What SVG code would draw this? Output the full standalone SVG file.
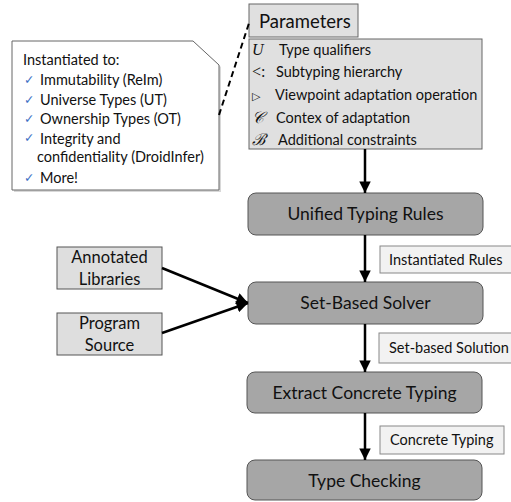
<svg xmlns="http://www.w3.org/2000/svg" width="511" height="502" viewBox="0 0 511 502">
<defs>
<style>
text{font-family:Lato,"Open Sans","Liberation Sans",sans-serif;fill:#111}
.proc{fill:#a6a6a6;stroke:#555;stroke-width:1}
.inp{fill:#dedede;stroke:#555;stroke-width:1}
.lbl{fill:#f2f2f2;stroke:#888;stroke-width:1}
.edge{stroke:#000;stroke-width:2.5;fill:none}
.big{font-size:17.5px}
.mid{font-size:16.5px}
.sm{font-size:14.5px}
.co{font-size:14.5px}
.par{font-size:14.5px}
.sym{font-family:"Liberation Serif","DejaVu Serif",serif;font-size:16px}
.chk{fill:#3b6fc4;font-size:12.5px;font-family:"DejaVu Sans",sans-serif}
</style>
<marker id="ah" viewBox="0 0 10 10" refX="10" refY="5" markerWidth="4.8" markerHeight="4.6" orient="auto" markerUnits="strokeWidth">
<path d="M0,0 L10,5 L0,10 z" fill="#000"/>
</marker>
</defs>

<g id="callout">
<path d="M14,43 L195,43 L221,67 L221,192 L14,192 Z" fill="#d8d8d8"/>
<path d="M12,41 L193,41 L219,65 L219,190 L12,190 Z" fill="#fff" stroke="#666" stroke-width="1"/>
<text class="co" x="23" y="65">Instantiated to:</text>
<text class="chk" x="24" y="84">✓</text><text class="co" x="40" y="85">Immutability (ReIm)</text>
<text class="chk" x="24" y="104">✓</text><text class="co" x="40" y="105">Universe Types (UT)</text>
<text class="chk" x="24" y="123">✓</text><text class="co" x="40" y="124">Ownership Types (OT)</text>
<text class="chk" x="24" y="142">✓</text><text class="co" x="40" y="144">Integrity and</text>
<text class="co" x="37" y="162">confidentiality (DroidInfer)</text>
<text class="chk" x="24" y="182">✓</text><text class="co" x="40" y="183">More!</text>
</g>

<g id="parameters">
<rect x="249" y="4" width="109" height="33" fill="#e0e0e0" stroke="#666"/>
<text x="259" y="28" style="font-size:18.5px">Parameters</text>
<rect x="249" y="39" width="233" height="110" fill="#e0e0e0" stroke="#666"/>
<text class="sym" x="252" y="55" font-style="italic">U</text><text class="par" x="279" y="55">Type qualifiers</text>
<text class="sym" x="252" y="77">&lt;:</text><text class="par" x="276" y="77">Subtyping hierarchy</text>
<text class="sym" x="252" y="100" style="font-size:11px">▷</text><text class="par" x="275" y="100">Viewpoint adaptation operation</text>
<text class="sym" x="252" y="123" font-style="italic">𝒞</text><text class="par" x="276" y="123">Contex of adaptation</text>
<text class="sym" x="252" y="145" font-style="italic">ℬ</text><text class="par" x="278" y="145">Additional constraints</text>
</g>

<g id="unified">
<rect class="proc" x="248" y="193" width="235" height="42" rx="8"/>
<text class="big" x="365.5" y="220" text-anchor="middle">Unified Typing Rules</text>
</g>
<g id="instantiated-rules">
<rect class="lbl" x="380" y="246" width="135" height="27"/>
<text class="sm" x="389" y="265">Instantiated Rules</text>
</g>
<g id="solver">
<rect class="proc" x="248" y="282" width="235" height="42" rx="8"/>
<text class="big" x="365.5" y="309" text-anchor="middle">Set-Based Solver</text>
</g>
<g id="annotated-libraries">
<rect class="inp" x="57" y="247" width="105" height="42"/>
<text class="mid" x="109.5" y="263" text-anchor="middle">Annotated</text>
<text class="mid" x="109.5" y="285" text-anchor="middle">Libraries</text>
</g>
<g id="program-source">
<rect class="inp" x="57" y="313" width="105" height="42"/>
<text class="mid" x="109.5" y="329" text-anchor="middle">Program</text>
<text class="mid" x="109.5" y="351" text-anchor="middle">Source</text>
</g>
<g id="set-based-solution">
<rect class="lbl" x="379" y="333" width="135" height="30"/>
<text class="sm" x="389" y="353">Set-based Solution</text>
</g>
<g id="extract">
<rect class="proc" x="247" y="372" width="235" height="41" rx="8"/>
<text class="big" x="364.5" y="399" text-anchor="middle">Extract Concrete Typing</text>
</g>
<g id="concrete-typing">
<rect class="lbl" x="380" y="426" width="124" height="28"/>
<text class="sm" x="390" y="445">Concrete Typing</text>
</g>
<g id="type-checking">
<rect class="proc" x="247" y="460" width="235" height="40" rx="8"/>
<text class="big" x="364.5" y="487" text-anchor="middle">Type Checking</text>
</g>

<g id="connectors">
<line x1="219" y1="115" x2="250" y2="20" stroke="#000" stroke-width="2" stroke-dasharray="6,4"/>
<line class="edge" x1="365" y1="149" x2="365" y2="193" marker-end="url(#ah)"/>
<line class="edge" x1="365" y1="235" x2="365" y2="282" marker-end="url(#ah)"/>
<line class="edge" x1="365" y1="324" x2="365" y2="372" marker-end="url(#ah)"/>
<line class="edge" x1="365" y1="413" x2="365" y2="460" marker-end="url(#ah)"/>
<line class="edge" x1="162" y1="268" x2="248" y2="303" marker-end="url(#ah)"/>
<line class="edge" x1="162" y1="333" x2="248" y2="303" marker-end="url(#ah)"/>
</g>
</svg>
